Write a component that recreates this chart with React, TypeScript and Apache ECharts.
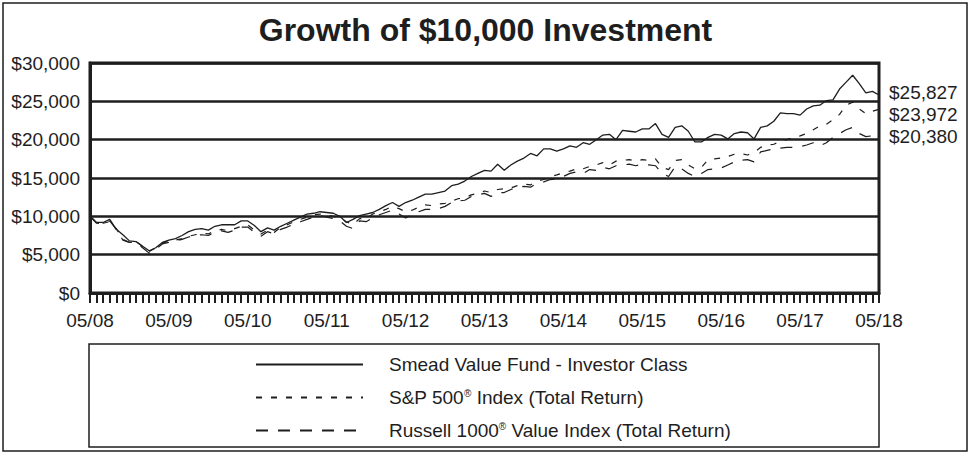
import React, { useEffect, useRef } from "react";
import * as echarts from "echarts";

// Monthly values in $ thousands, 05/08 .. 05/18 (121 months)
const smead = [
  10.0, 9.2, 9.2, 9.6, 8.3, 7.6, 6.8, 6.7, 6.1, 5.5, 5.9, 6.6,
  6.9, 7.1, 7.5, 8.0, 8.3, 8.4, 8.2, 8.7, 8.9, 8.9, 8.9, 9.4,
  9.4, 8.8, 8.0, 8.5, 8.2, 8.7, 9.1, 9.5, 9.9, 10.3, 10.4, 10.6,
  10.5, 10.4, 10.0, 9.2, 9.6, 10.1, 10.3, 10.5, 10.9, 11.4, 11.8, 11.3,
  11.8, 12.1, 12.5, 12.9, 12.9, 13.1, 13.3, 14.0, 14.2, 14.6, 15.2, 15.6,
  16.0, 15.9, 16.8, 16.0, 16.7, 17.2, 17.6, 18.2, 17.9, 18.8, 18.8, 18.5,
  18.8, 19.2, 19.0, 19.6, 19.4, 20.0, 20.6, 20.7, 20.0, 21.2, 21.1, 21.0,
  21.4, 21.4, 22.1, 20.7, 20.3, 21.6, 21.8, 21.1, 19.7, 19.7, 20.3, 20.7,
  20.6, 20.1, 20.8, 21.0, 20.9, 20.1, 21.6, 21.8, 22.4, 23.5, 23.4, 23.4,
  23.2, 24.0, 24.4, 24.5, 25.1, 25.2, 26.6, 27.5, 28.4, 27.3, 26.1, 26.3,
  25.827,
];
const sp500 = [
  10.0, 9.2, 9.1, 9.3, 8.4, 7.0, 6.6, 6.7, 6.1, 5.4, 5.9, 6.5,
  6.8, 6.9, 7.1, 7.4, 7.6, 7.8, 7.7, 8.1, 8.3, 8.1, 8.4, 8.7,
  8.9, 8.2, 7.7, 8.2, 7.9, 8.6, 8.9, 9.3, 9.6, 9.9, 10.2, 10.3,
  10.2, 10.0, 9.8, 9.3, 8.9, 9.7, 9.7, 10.3, 10.6, 10.9, 11.3, 11.0,
  10.6, 10.8, 11.2, 11.5, 11.4, 11.6, 11.7, 12.0, 12.3, 12.4, 12.8, 13.0,
  13.3, 13.1, 13.5, 13.6, 13.7, 14.0, 14.2, 14.1, 14.6, 14.8, 15.2, 15.4,
  15.7, 15.9, 16.2, 16.2, 16.5, 16.7, 17.0, 16.7, 17.2, 17.3, 17.4, 17.2,
  17.4, 17.3, 17.5, 16.4, 16.1, 17.3, 17.4, 16.7, 16.2, 16.4, 17.4, 17.5,
  17.6, 17.8, 18.1, 18.2, 18.0, 18.3, 19.0, 19.3, 19.4, 19.8, 20.0, 20.3,
  20.5, 20.8, 21.3, 21.8, 22.0, 22.6, 23.3, 24.5, 24.9, 24.0, 23.4, 23.7,
  23.972,
];
const russell = [
  10.0, 9.1, 9.0, 9.4, 8.3, 6.9, 6.6, 6.6, 5.9, 5.2, 5.7, 6.4,
  6.6, 6.8, 7.0, 7.3, 7.5, 7.6, 7.5, 7.9, 8.1, 7.9, 8.2, 8.6,
  8.6, 7.9, 7.4, 8.0, 7.7, 8.3, 8.6, 9.0, 9.3, 9.6, 9.9, 10.1,
  9.9, 9.7, 9.4, 8.7, 8.4, 9.4, 9.3, 9.8, 10.2, 10.5, 10.8, 10.3,
  9.8, 10.2, 10.6, 10.9, 10.9, 11.0, 11.3, 11.8, 12.0, 12.1, 12.6, 12.8,
  13.0, 12.6, 13.1, 13.1, 13.5, 13.8, 13.9, 13.8, 14.3, 14.5, 14.8, 14.9,
  15.2, 15.6, 15.8, 15.6, 16.1, 16.0, 16.4, 16.2, 16.6, 16.7, 16.8, 16.6,
  16.8, 16.7, 16.6, 15.6, 15.2, 16.5, 16.2, 15.6, 15.2, 15.6, 16.1, 16.2,
  16.3, 16.7, 17.1, 17.3, 17.4, 17.1, 18.4, 18.6, 18.8, 18.9, 19.0, 19.0,
  19.1, 19.3, 19.6, 19.2, 19.6, 20.3, 20.8, 21.3, 21.6, 20.8, 20.4, 20.5,
  20.38,
];
const seriesNames = [
  "Smead Value Fund - Investor Class",
  "S&P 500® Index (Total Return)",
  "Russell 1000® Value Index (Total Return)",
];
const yTicks = [0, 5, 10, 15, 20, 25, 30];
const startMonth = 5;
const startYear = 8;
const categories = smead.map((_, i) => {
  const mIdx = startMonth - 1 + i;
  const m = (mIdx % 12) + 1;
  const y = startYear + Math.floor(mIdx / 12);
  return String(m).padStart(2, "0") + "/" + String(y).padStart(2, "0");
});

const FONT = "'Liberation Sans', Arial, Helvetica, sans-serif";
const INK = "#1e1e1e";
const FS = 19;

const money = (v: number) => "$" + Math.round(v * 1000).toLocaleString("en-US");

export default function App() {
  const ref = useRef<HTMLDivElement>(null);
  useEffect(() => {
    document.body.style.margin = "0";
    if (!ref.current) return;
    const chart = echarts.init(ref.current, null, { renderer: "svg" });
    const lineSeries = (name: string, data: number[], type: any, width: number, labelOffset: number[]) => ({
      name,
      type: "line",
      data,
      symbol: "none",
      showSymbol: false,
      lineStyle: { color: INK, width, type },
      itemStyle: { color: INK },
      endLabel: {
        show: true,
        formatter: (p: any) => money(p.value),
        color: INK,
        fontSize: FS,
        fontFamily: FONT,
        distance: 10,
        offset: labelOffset,
      },
      z: 5,
    });
    chart.setOption({
      animation: false,
      backgroundColor: "#ffffff",
      textStyle: { fontFamily: FONT, color: INK },
      title: {
        text: "Growth of $10,000 Investment",
        left: "center",
        top: 9,
        textStyle: { fontSize: 32, fontWeight: "bold", color: INK, fontFamily: FONT },
      },
      grid: {
        left: 90,
        right: 92,
        top: 63,
        bottom: 162,
        show: true,
        borderColor: INK,
        borderWidth: 3,
        backgroundColor: "transparent",
      },
      legend: {
        orient: "vertical",
        left: 255,
        top: 354,
        padding: 0,
        itemWidth: 107,
        itemHeight: 14,
        itemGap: 12,
        data: seriesNames,
        itemStyle: { opacity: 0, borderWidth: 0 },
        formatter: (name: string) => name.replace("®", "{sup|®}"),
        textStyle: {
          fontSize: FS,
          color: INK,
          fontFamily: FONT,
          lineHeight: 21,
          padding: [0, 0, 0, 21],
          rich: {
            sup: { fontSize: 10, fontFamily: FONT, color: INK, padding: [0, 0, 9, 0] },
          },
        },
      },
      xAxis: {
        type: "category",
        data: categories,
        boundaryGap: false,
        axisLine: { lineStyle: { color: INK, width: 3 } },
        axisTick: { show: true, interval: 0, length: 10, lineStyle: { color: INK, width: 2 } },
        axisLabel: { interval: 11, margin: 18, fontSize: FS, color: INK, fontFamily: FONT },
        splitLine: { show: false },
      },
      yAxis: {
        type: "value",
        min: yTicks[0],
        max: yTicks[yTicks.length - 1],
        interval: yTicks[1] - yTicks[0],
        axisLine: { show: true, lineStyle: { color: INK, width: 3 } },
        axisTick: { show: false },
        axisLabel: { margin: 10, fontSize: FS, color: INK, fontFamily: FONT, formatter: (v: number) => money(v) },
        splitLine: { show: true, lineStyle: { color: INK, width: 2.5 } },
      },
      graphic: [
        {
          type: "rect",
          shape: { x: 3, y: 3, width: 964, height: 448 },
          style: { fill: "none", stroke: INK, lineWidth: 1.5 },
          silent: true,
        },
        {
          type: "rect",
          shape: { x: 89, y: 344, width: 790, height: 103 },
          style: { fill: "none", stroke: INK, lineWidth: 1.5 },
          silent: true,
        },
      ],
      series: [
        lineSeries(seriesNames[0], smead, "solid", 1.3, [0, -2]),
        lineSeries(seriesNames[1], sp500, [6, 9], 1.2, [0, 5]),
        lineSeries(seriesNames[2], russell, [12, 10], 1.2, [0, 0]),
      ],
    });
    return () => chart.dispose();
  }, []);
  return <div ref={ref} style={{ width: 971, height: 455, background: "#fff" }} />;
}
